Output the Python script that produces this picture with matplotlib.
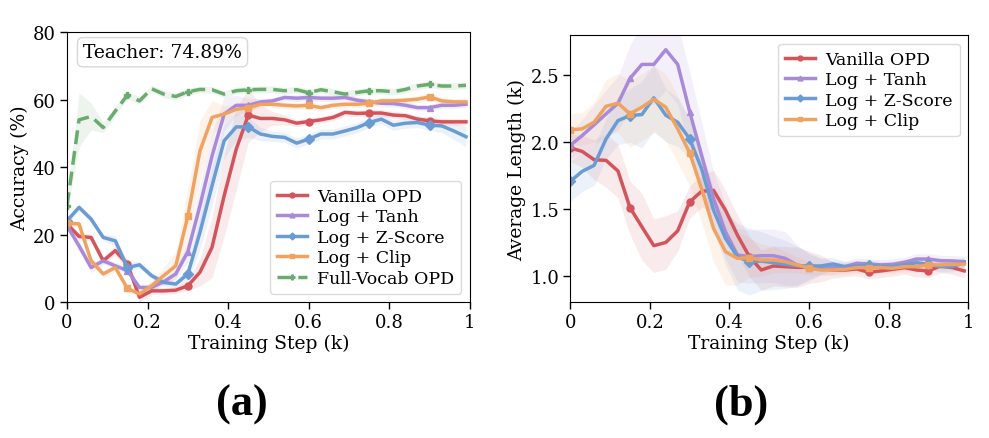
import matplotlib
matplotlib.use("Agg")
import matplotlib.pyplot as plt
import numpy as np

plt.rcParams['font.family'] = 'DejaVu Serif'
plt.rcParams['mathtext.fontset'] = 'dejavuserif'

# training steps (k), one point every 0.03k
steps = [round(0.03 * i, 2) for i in range(34)]

names = ["Vanilla OPD", "Log + Tanh", "Log + Z-Score", "Log + Clip", "Full-Vocab OPD"]
colors = ["#d4545b", "#a98ad8", "#6a9bd2", "#f0a261", "#6aab6e"]
markers = ["o", "^", "D", "s", "P"]

# (a) accuracy (%)
acc_vanilla = [23.2, 19.5, 19.2, 12.3, 15.3, 11.3, 1.5, 3.4, 3.4, 3.6, 4.9, 8.9, 16.3, 31.5, 45.3, 55.4, 54.4,
               54.4, 54.0, 53.0, 53.5, 54.0, 54.7, 56.2, 55.9, 56.0, 56.0, 55.4, 55.2, 54.2, 53.7, 53.4, 53.4, 53.4]
acc_tanh = [22.7, 16.7, 10.3, 12.3, 10.8, 9.4, 4.4, 4.4, 6.1, 8.4, 15.0, 28.6, 43.3, 55.7, 58.3, 58.3, 59.3,
            59.6, 60.6, 60.4, 60.6, 60.4, 60.4, 60.6, 59.8, 59.3, 58.9, 58.8, 58.3, 57.6, 57.6, 58.3, 58.3, 58.6]
acc_zscore = [24.1, 28.1, 24.6, 19.2, 18.2, 10.3, 11.1, 7.9, 5.9, 5.4, 8.4, 20.7, 34.5, 47.8, 51.9, 51.9, 49.8,
              49.1, 48.8, 47.1, 48.3, 49.8, 49.8, 50.7, 51.7, 53.2, 54.2, 52.4, 53.0, 53.2, 52.4, 52.2, 50.7, 49.0]
acc_clip = [23.4, 23.2, 12.3, 8.4, 10.3, 4.1, 2.5, 4.9, 7.9, 10.8, 25.6, 44.8, 54.7, 55.7, 57.1, 57.6, 58.6,
            58.6, 58.3, 58.1, 58.3, 57.6, 58.3, 58.6, 58.6, 58.9, 59.6, 59.6, 59.8, 60.1, 60.8, 59.6, 59.3, 59.3]
acc_fullvocab = [28.5, 54.0, 55.0, 51.7, 56.6, 61.3, 59.6, 63.2, 61.6, 60.9, 62.3, 63.0, 62.9, 61.6, 62.6, 62.9, 63.0,
                 63.0, 62.6, 62.9, 62.0, 62.9, 62.3, 61.6, 62.1, 62.6, 62.6, 62.3, 63.0, 64.0, 64.5, 64.0, 64.0, 64.2]

acc_std_vanilla = [1.0, 1.0, 1.0, 1.0, 1.5, 1.5, 1.5, 1.0, 1.0, 1.0, 1.5, 4.0, 9.0, 12.0, 12.0, 8.0, 4.0,
                   2.0, 1.5, 1.0, 1.0, 1.0, 1.0, 1.0, 1.0, 1.0, 1.0, 1.0, 1.0, 1.0, 1.0, 1.0, 1.0, 1.0]
acc_std_tanh = [1.0, 1.5, 1.5, 1.0, 1.0, 1.0, 1.0, 1.0, 1.0, 1.5, 3.0, 6.0, 7.0, 5.0, 3.0, 2.0, 1.0,
                1.0, 1.0, 1.0, 1.0, 1.0, 1.0, 1.0, 1.0, 1.0, 1.0, 1.0, 1.0, 1.0, 1.0, 1.0, 1.0, 1.0]
acc_std_zscore = [1.0, 1.0, 1.0, 1.0, 1.5, 1.5, 1.0, 1.0, 1.0, 1.0, 2.0, 5.0, 6.0, 5.0, 4.0, 3.0, 2.0,
                  1.5, 1.5, 1.5, 1.5, 1.5, 1.5, 1.5, 1.5, 1.5, 1.5, 1.5, 1.5, 1.5, 1.5, 2.0, 2.5, 3.0]
acc_std_clip = [1.0, 1.0, 1.0, 1.0, 1.0, 1.0, 1.0, 1.5, 2.5, 4.0, 8.0, 9.0, 5.0, 2.5, 1.5, 1.0, 1.0,
                1.0, 1.0, 1.0, 1.0, 1.0, 1.0, 1.0, 1.0, 1.0, 1.0, 1.0, 1.0, 1.0, 1.0, 1.0, 1.0, 1.0]
acc_std_fullvocab = [2.0, 8.0, 4.0, 1.5, 1.5, 1.0, 1.0, 1.0, 1.0, 1.0, 1.0, 1.0, 1.0, 1.0, 1.0, 1.0, 1.0,
                     1.0, 1.0, 1.0, 1.0, 1.0, 1.0, 1.0, 1.0, 1.0, 1.0, 1.0, 1.0, 1.0, 1.0, 1.0, 1.0, 1.0]

# (b) average response length (k)
len_vanilla = [1.956, 1.929, 1.867, 1.862, 1.782, 1.509, 1.365, 1.224, 1.248, 1.335, 1.551, 1.631, 1.638, 1.489,
               1.303, 1.142, 1.042, 1.072, 1.067, 1.062, 1.062, 1.055, 1.042, 1.042, 1.050, 1.025, 1.035, 1.047,
               1.060, 1.042, 1.035, 1.072, 1.060, 1.035]
len_tanh = [1.974, 2.048, 2.128, 2.210, 2.290, 2.475, 2.580, 2.580, 2.690, 2.580, 2.227, 1.900, 1.576, 1.328,
            1.154, 1.142, 1.149, 1.149, 1.129, 1.080, 1.060, 1.067, 1.060, 1.067, 1.092, 1.087, 1.080, 1.084,
            1.100, 1.124, 1.124, 1.112, 1.110, 1.104]
len_zscore = [1.705, 1.780, 1.825, 2.023, 2.160, 2.197, 2.205, 2.330, 2.200, 2.147, 2.023, 1.800, 1.490, 1.278,
              1.142, 1.104, 1.109, 1.097, 1.084, 1.072, 1.072, 1.072, 1.087, 1.067, 1.072, 1.080, 1.067, 1.067,
              1.080, 1.097, 1.084, 1.067, 1.067, 1.097]
len_clip = [2.090, 2.098, 2.148, 2.267, 2.290, 2.210, 2.260, 2.320, 2.260, 2.098, 1.919, 1.650, 1.353, 1.179,
            1.129, 1.134, 1.117, 1.117, 1.104, 1.080, 1.055, 1.042, 1.042, 1.047, 1.060, 1.060, 1.060, 1.055,
            1.067, 1.067, 1.080, 1.080, 1.084, 1.087]

len_std_vanilla = [0.10, 0.12, 0.15, 0.20, 0.20, 0.20, 0.25, 0.20, 0.20, 0.15, 0.12, 0.12, 0.15, 0.15,
                   0.15, 0.15, 0.15, 0.15, 0.15, 0.15, 0.12, 0.10, 0.06, 0.05, 0.05, 0.05, 0.05, 0.05,
                   0.05, 0.05, 0.05, 0.05, 0.05, 0.05]
len_std_tanh = [0.10, 0.12, 0.15, 0.18, 0.20, 0.25, 0.30, 0.30, 0.30, 0.30, 0.30, 0.25, 0.20, 0.20,
                0.20, 0.20, 0.20, 0.20, 0.20, 0.15, 0.10, 0.06, 0.05, 0.04, 0.04, 0.04, 0.04, 0.04,
                0.04, 0.04, 0.04, 0.04, 0.04, 0.04]
len_std_zscore = [0.15, 0.15, 0.15, 0.15, 0.18, 0.20, 0.25, 0.25, 0.20, 0.18, 0.15, 0.15, 0.15, 0.20,
                  0.25, 0.25, 0.22, 0.20, 0.18, 0.15, 0.10, 0.06, 0.05, 0.04, 0.04, 0.04, 0.04, 0.04,
                  0.04, 0.04, 0.04, 0.04, 0.04, 0.04]
len_std_clip = [0.12, 0.12, 0.15, 0.20, 0.22, 0.25, 0.25, 0.25, 0.25, 0.25, 0.25, 0.25, 0.25, 0.25,
                0.20, 0.15, 0.12, 0.10, 0.08, 0.06, 0.05, 0.04, 0.04, 0.04, 0.04, 0.04, 0.04, 0.04,
                0.04, 0.04, 0.04, 0.04, 0.04, 0.04]

teacher_acc = 74.89


def draw_series(ax, x, ys, stds, labels, dashed_last=False):
    for k, (y, s, lab) in enumerate(zip(ys, stds, labels)):
        y = np.array(y)
        s = np.array(s)
        ls = "--" if (dashed_last and k == len(ys) - 1) else "-"
        ax.fill_between(x, y - s, y + s, color=colors[k], alpha=0.12, linewidth=0)
        ax.plot(x, y, ls, color=colors[k], lw=2.5, marker=markers[k], markersize=5,
                markevery=5, label=lab, dashes=(4, 2) if ls == "--" else (None, None))


def add_legend(ax, loc):
    ax.legend(loc=loc, fontsize=12.5, handlelength=1.7, handletextpad=0.6, borderpad=0.4,
              labelspacing=0.2, framealpha=0.9, edgecolor="#d8d8d8", markerscale=0.7)


x = np.array(steps)
fig = plt.figure(figsize=(9.89, 4.39), dpi=100)
ax1 = fig.add_axes([0.0677, 0.309, 0.4075, 0.616])
ax2 = fig.add_axes([0.5766, 0.309, 0.4024, 0.609])

draw_series(ax1, x,
            [acc_vanilla, acc_tanh, acc_zscore, acc_clip, acc_fullvocab],
            [acc_std_vanilla, acc_std_tanh, acc_std_zscore, acc_std_clip, acc_std_fullvocab],
            names, dashed_last=True)
ax1.set_xlim(0, 1)
ax1.set_ylim(0, 80)
ax1.set_yticks([0, 20, 40, 60, 80])
ax1.set_xlabel("Training Step (k)", fontsize=13.5, labelpad=2)
ax1.set_ylabel("Accuracy (%)", fontsize=13.5, labelpad=3)
ax1.text(0.04, 0.925, f"Teacher: {teacher_acc:.2f}%", transform=ax1.transAxes, fontsize=13.5,
         va="center", ha="left",
         bbox=dict(boxstyle="round,pad=0.3", fc="white", ec="#d8d8d8", lw=1))
add_legend(ax1, "lower right")

draw_series(ax2, x,
            [len_vanilla, len_tanh, len_zscore, len_clip],
            [len_std_vanilla, len_std_tanh, len_std_zscore, len_std_clip],
            names[:4])
ax2.set_xlim(0, 1)
ax2.set_ylim(0.8, 2.8)
ax2.set_yticks([1.0, 1.5, 2.0, 2.5])
ax2.set_xlabel("Training Step (k)", fontsize=13.5, labelpad=2)
ax2.set_ylabel("Average Length (k)", fontsize=13.5, labelpad=3)
add_legend(ax2, "upper right")

for ax in (ax1, ax2):
    ax.set_xticks([0, 0.2, 0.4, 0.6, 0.8, 1.0])
    ax.set_xticklabels(["0", "0.2", "0.4", "0.6", "0.8", "1"])
    ax.tick_params(labelsize=13, length=5, width=1, pad=3)

fig.text(0.245, 0.077, "(a)", fontsize=32, fontweight="bold", family="Liberation Serif",
         ha="center", va="center")
fig.text(0.749, 0.077, "(b)", fontsize=32, fontweight="bold", family="Liberation Serif",
         ha="center", va="center")

fig.savefig("out.png", dpi=100)
